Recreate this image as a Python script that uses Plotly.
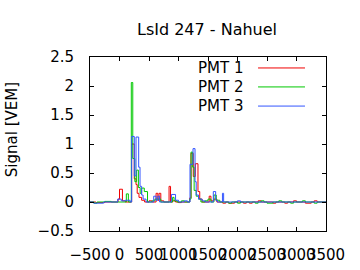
import plotly.graph_objects as go

# Step change points (time in ns, signal in VEM)
pmt1_t = [-500, -400, -250, -25, 0, 50, 100, 206, 250, 280, 300, 330, 375, 425, 500, 550, 620, 650, 670, 700, 750, 840, 865, 900, 950, 1000, 1050, 1190, 1212, 1250, 1285, 1330, 1360, 1400, 1520, 1550, 1600, 1650, 1750, 1800, 1850, 1950, 2100, 2150, 2200, 2250, 2350, 2400, 2600, 2650, 2800, 2850, 2950, 3000, 3150, 3250, 3300, 3350, 3500]
pmt1_v = [0.0, -0.01, 0.0, 0.05, 0.22, 0.02, 0.0, 1.0, 0.4, 0.3, 0.15, 0.08, 0.03, 0.0, 0.02, 0.0, 0.15, 0.03, 0.15, 0.02, 0.0, 0.27, 0.0, 0.02, 0.0, -0.01, 0.0, 0.07, 0.84, 0.44, 0.66, 0.18, 0.05, 0.0, 0.1, 0.02, 0.05, 0.0, -0.02, 0.0, -0.02, 0.0, -0.02, 0.0, -0.02, 0.0, 0.02, 0.0, -0.02, 0.0, -0.02, 0.0, 0.02, 0.0, -0.02, 0.0, 0.02, 0.0, 0.0]

pmt2_t = [-500, -430, -380, -250, -140, 116, 150, 200, 225, 260, 290, 320, 350, 376, 420, 475, 550, 600, 700, 900, 925, 975, 1050, 1100, 1190, 1212, 1240, 1265, 1300, 1340, 1380, 1450, 1500, 1550, 1600, 1640, 1700, 1850, 1900, 2000, 2050, 2300, 2350, 2400, 2450, 2500, 2600, 2700, 2750, 2900, 2950, 3100, 3150, 3300, 3350, 3500]
pmt2_v = [0.0, -0.02, 0.0, 0.01, 0.0, 0.14, 0.0, 2.06, 0.75, 0.35, 0.55, 0.25, 0.15, 0.24, 0.18, 0.0, 0.02, 0.05, 0.0, 0.08, 0.02, 0.0, 0.02, 0.0, 0.05, 0.86, 0.6, 0.2, 0.1, 0.05, 0.0, 0.02, 0.05, 0.0, 0.12, 0.03, 0.0, -0.02, 0.0, -0.02, 0.0, -0.02, 0.0, 0.02, 0.0, -0.02, 0.0, 0.02, 0.0, -0.02, 0.0, 0.02, 0.0, -0.02, 0.0, 0.0]

pmt3_t = [-500, -440, -270, -30, 30, 100, 180, 206, 251, 280, 325, 348, 375, 400, 450, 580, 620, 650, 680, 880, 950, 1000, 1100, 1150, 1195, 1246, 1280, 1300, 1340, 1400, 1450, 1590, 1630, 1660, 1745, 1765, 2000, 2050, 3500]
pmt3_v = [0.0, -0.02, 0.0, 0.05, 0.02, 0.03, 0.0, 1.13, 0.45, 1.12, 0.6, 0.27, 0.12, 0.05, 0.0, 0.1, 0.03, 0.1, 0.0, 0.13, 0.03, 0.0, 0.02, 0.0, 0.65, 0.92, 0.35, 0.12, 0.05, 0.02, 0.0, 0.18, 0.03, 0.0, 0.15, 0.0, 0.02, 0.0, 0.0]

names = ["PMT 1", "PMT 2", "PMT 3"]
colors = ["#f00000", "#00c800", "#3355ff"]

fig = go.Figure()
for t, v, n, c in [(pmt1_t, pmt1_v, names[0], colors[0]),
                   (pmt2_t, pmt2_v, names[1], colors[1]),
                   (pmt3_t, pmt3_v, names[2], colors[2])]:
    fig.add_trace(go.Scatter(x=t, y=v, mode="lines", name=n,
                             line=dict(color=c, width=1, shape="hv"),
                             showlegend=False))

# gnuplot-style legend: text then sample line
leg_y = [0.937, 0.828, 0.718]
for n, c, y in zip(names, colors, leg_y):
    fig.add_annotation(x=0.655, y=y, xref="paper", yref="paper", text=n,
                       showarrow=False, xanchor="right", yanchor="middle",
                       font=dict(size=15, color="black"))
    fig.add_shape(type="line", xref="paper", yref="paper", x0=0.712, x1=0.911,
                  y0=y, y1=y, line=dict(color=c, width=1))

fig.add_annotation(x=-0.33, y=0.58, xref="paper", yref="paper", text="Signal [VEM]",
                   textangle=-90, showarrow=False, xanchor="center", yanchor="middle",
                   font=dict(size=15, color="black"))

axis_common = dict(showgrid=False, zeroline=False, showline=True, linecolor="black",
                   linewidth=1, mirror="ticks", ticks="inside", ticklen=4,
                   tickcolor="black", tickfont=dict(size=15, color="black"),
                   automargin=False)

fig.update_xaxes(range=[-500, 3500], tick0=-500, dtick=500, tickangle=0,
                 ticklabelstandoff=10, **axis_common)
fig.update_yaxes(range=[-0.5, 2.5], tick0=-0.5, dtick=0.5, ticklabelstandoff=12, **axis_common)

fig.update_layout(
    width=360, height=270,
    margin=dict(l=90, r=34, t=57, b=39),
    paper_bgcolor="white", plot_bgcolor="white",
    font=dict(family="DejaVu Sans", color="black"),
    title=dict(text="LsId 247 - Nahuel", x=207/360, xanchor="center",
               y=1 - 29/270, yanchor="middle", font=dict(size=16, color="black")),
)

fig.write_html("out.html")
